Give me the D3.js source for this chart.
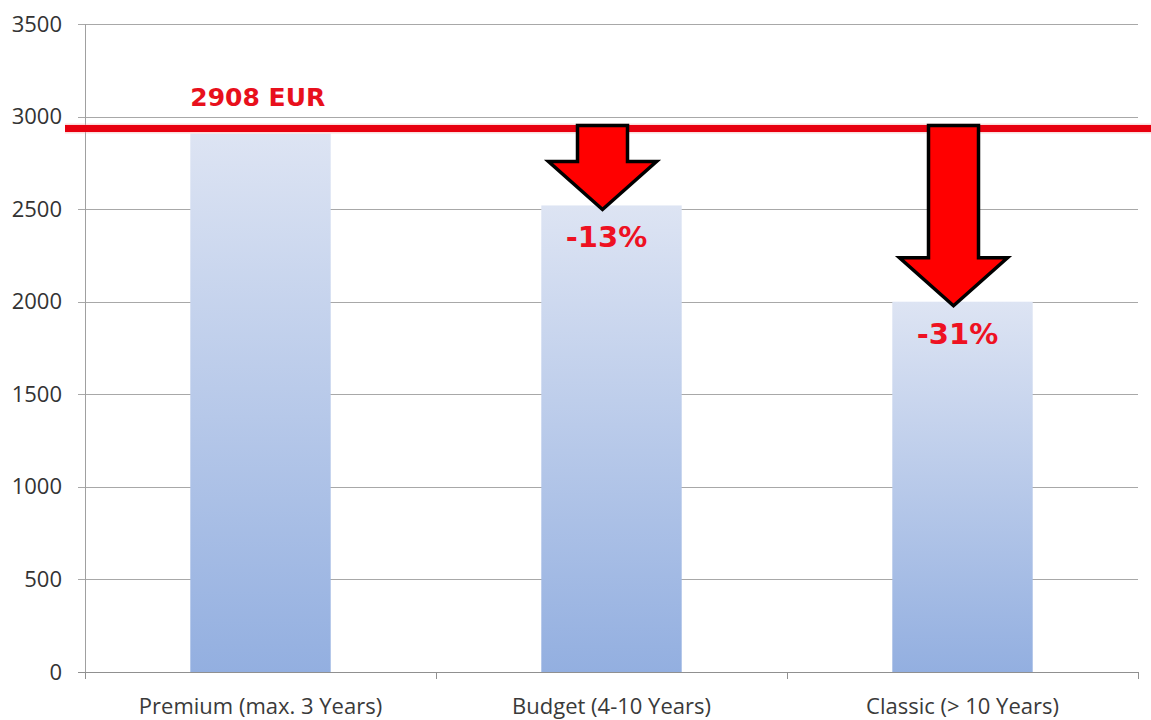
<!DOCTYPE html>
<html>
<head>
<meta charset="utf-8">
<script src="https://cdn.jsdelivr.net/npm/d3@7"></script>
<style>
  html, body { margin: 0; padding: 0; background: #fff; }
  svg { display: block; }
</style>
</head>
<body>
<svg id="chart" width="1151" height="720"></svg>
<script>
// Average price per age class, EUR
const categories = ["Premium (max. 3 Years)", "Budget (4-10 Years)", "Classic (> 10 Years)"];
const prices = [2908, 2520, 2000];
const changeLabels = ["", "-13%", "-31%"];
const referencePrice = 2908;
const referenceLabel = "2908 EUR";
const yTicks = [0, 500, 1000, 1500, 2000, 2500, 3000, 3500];

const svg = d3.select("#chart");
const plot = { left: 85, right: 1138, top: 24, bottom: 672 };

const x = d3.scaleBand()
  .domain(categories)
  .range([plot.left, plot.right])
  .paddingInner(0.6)
  .paddingOuter(0.3);

const y = d3.scaleLinear()
  .domain([0, 3500])
  .range([plot.bottom, plot.top]);

// Vertical gradient used by each bar
const defs = svg.append("defs");
const grad = defs.append("linearGradient")
  .attr("id", "barFill")
  .attr("x1", 0).attr("y1", 0).attr("x2", 0).attr("y2", 1);
grad.append("stop").attr("offset", "0%").attr("stop-color", "#dde4f3");
grad.append("stop").attr("offset", "100%").attr("stop-color", "#93afe0");

// Horizontal gridlines with short ticks on the left
svg.append("g")
  .selectAll("line")
  .data(yTicks.filter(d => d > 0))
  .join("line")
  .attr("x1", plot.left - 7)
  .attr("x2", plot.right)
  .attr("y1", d => Math.round(y(d)) + 0.5)
  .attr("y2", d => Math.round(y(d)) + 0.5)
  .attr("stroke", "#a8a8a8")
  .attr("stroke-width", 1);

// Y axis labels
const yAxis = d3.axisLeft(y).tickValues(yTicks).tickFormat(d3.format("d")).tickSize(0).tickPadding(23);
const gy = svg.append("g").attr("transform", `translate(${plot.left},0)`).call(yAxis);
gy.select(".domain").remove();
gy.selectAll("text")
  .attr("font-family", "'Open Sans', sans-serif")
  .attr("font-size", 22)
  .attr("fill", "#333");

// Bars
svg.append("g")
  .selectAll("rect")
  .data(categories)
  .join("rect")
  .attr("x", d => x(d))
  .attr("width", x.bandwidth())
  .attr("y", (d, i) => y(prices[i]))
  .attr("height", (d, i) => y(0) - y(prices[i]))
  .attr("fill", "url(#barFill)");

// Y axis line
svg.append("line")
  .attr("x1", plot.left + 0.5).attr("x2", plot.left + 0.5)
  .attr("y1", plot.top).attr("y2", plot.bottom + 6)
  .attr("stroke", "#a0a0a0");

// X axis line, category ticks and labels
const xAxisLine = svg.append("g");
xAxisLine.append("line")
  .attr("x1", plot.left - 7).attr("x2", plot.right)
  .attr("y1", plot.bottom + 0.5).attr("y2", plot.bottom + 0.5)
  .attr("stroke", "#909090");
const boundaries = categories.map(c => x(c) - x.step() * x.paddingInner() / 2).concat([plot.right]);
xAxisLine.selectAll("line.tick")
  .data(boundaries)
  .join("line")
  .attr("class", "tick")
  .attr("x1", d => Math.round(d) + 0.5).attr("x2", d => Math.round(d) + 0.5)
  .attr("y1", plot.bottom).attr("y2", plot.bottom + 7)
  .attr("stroke", "#909090");
xAxisLine.selectAll("text")
  .data(categories)
  .join("text")
  .attr("x", d => x(d) + x.bandwidth() / 2)
  .attr("y", 714)
  .attr("text-anchor", "middle")
  .attr("font-family", "'Open Sans', sans-serif")
  .attr("font-size", 22)
  .attr("fill", "#3a3a3a")
  .text(d => d);

// Reference price line
const refY = y(referencePrice) - 5;
svg.append("line")
  .attr("x1", 65).attr("x2", 1151)
  .attr("y1", refY).attr("y2", refY)
  .attr("stroke", "#f4a0a0")
  .attr("stroke-width", 10)
  .attr("opacity", 0.35);
svg.append("line")
  .attr("x1", 65).attr("x2", 1151)
  .attr("y1", refY).attr("y2", refY)
  .attr("stroke", "#e8000f")
  .attr("stroke-width", 7);

svg.append("text")
  .attr("x", x(categories[0]))
  .attr("y", 106)
  .attr("font-family", "'DejaVu Sans', sans-serif")
  .attr("font-weight", "bold")
  .attr("font-size", 25)
  .attr("fill", "#e8101c")
  .text(referenceLabel);

// Down arrows from the reference line to each cheaper class
const shaftHalf = 25, headHalf = 54, headH = 48;
const arrowData = categories.map((c, i) => ({ c, i })).filter(d => d.i > 0);
const arrows = svg.append("g");
arrowData.forEach(({ c, i }) => {
  const cx = x(c) + x.bandwidth() / 2 - 9;
  const top = refY - 3;
  const tip = y(prices[i]) + 4;
  const neck = tip - headH;
  const path = d3.path();
  path.moveTo(cx - shaftHalf, top);
  path.lineTo(cx + shaftHalf, top);
  path.lineTo(cx + shaftHalf, neck);
  path.lineTo(cx + headHalf, neck);
  path.lineTo(cx, tip);
  path.lineTo(cx - headHalf, neck);
  path.lineTo(cx - shaftHalf, neck);
  path.closePath();
  arrows.append("path")
    .attr("d", path.toString())
    .attr("fill", "#ff0000")
    .attr("stroke", "#000")
    .attr("stroke-width", 3.5)
    .attr("stroke-linejoin", "miter");
  arrows.append("text")
    .attr("x", cx + 4)
    .attr("y", tip + 38)
    .attr("text-anchor", "middle")
    .attr("font-family", "'DejaVu Sans', sans-serif")
    .attr("font-weight", "bold")
    .attr("font-size", 29)
    .attr("fill", "#ee1122")
    .text(changeLabels[i]);
});
</script>
</body>
</html>
